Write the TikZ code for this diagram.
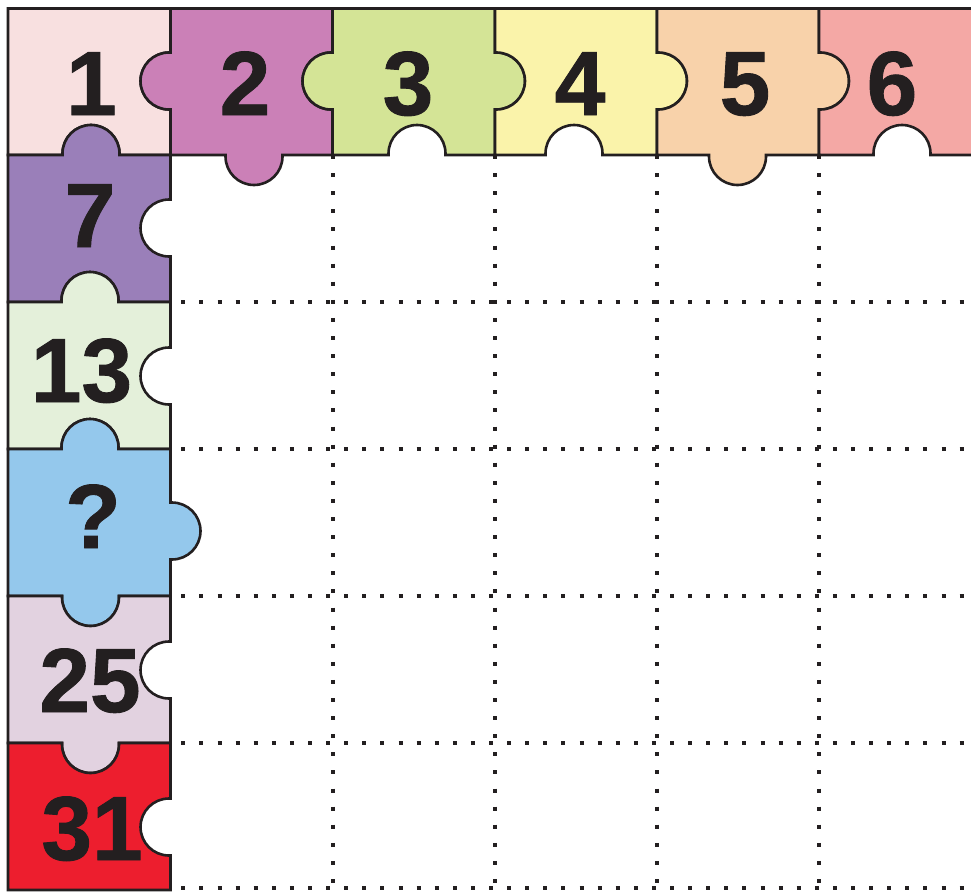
\documentclass[tikz,border=0pt]{standalone}
\usepackage{fontspec}
\setmainfont{Liberation Sans}
\newfontfamily\numfont[FakeBold=1]{Liberation Sans Bold}
\definecolor{ink}{HTML}{231F20}
\definecolor{cA}{HTML}{F8E0E0}
\definecolor{cB}{HTML}{CB80B7}
\definecolor{cC}{HTML}{D4E496}
\definecolor{cD}{HTML}{FAF3AA}
\definecolor{cE}{HTML}{F8D2AA}
\definecolor{cF}{HTML}{F4A8A5}
\definecolor{cG}{HTML}{9A7FB9}
\definecolor{cH}{HTML}{E4F0DA}
\definecolor{cI}{HTML}{94C8EC}
\definecolor{cJ}{HTML}{E2D2E0}
\definecolor{cK}{HTML}{ED1E2E}
\def\pr{28.5}
\def\ps{1.5}
\tikzset{
 dnP/.style 2 args={insert path={-- (#1,#2-\pr) -- (#1+\ps,#2-\pr) arc(-90:90:\pr) -- (#1,#2+\pr)}},
 dnM/.style 2 args={insert path={-- (#1,#2-\pr) -- (#1-\ps,#2-\pr) arc(-90:-270:\pr) -- (#1,#2+\pr)}},
 upP/.style 2 args={insert path={-- (#1,#2+\pr) -- (#1+\ps,#2+\pr) arc(90:-90:\pr) -- (#1,#2-\pr)}},
 upM/.style 2 args={insert path={-- (#1,#2+\pr) -- (#1-\ps,#2+\pr) arc(90:270:\pr) -- (#1,#2-\pr)}},
 rtP/.style 2 args={insert path={-- (#2-\pr,#1) -- (#2-\pr,#1+\ps) arc(180:0:\pr) -- (#2+\pr,#1)}},
 rtM/.style 2 args={insert path={-- (#2-\pr,#1) -- (#2-\pr,#1-\ps) arc(180:360:\pr) -- (#2+\pr,#1)}},
 lfP/.style 2 args={insert path={-- (#2+\pr,#1) -- (#2+\pr,#1+\ps) arc(0:180:\pr) -- (#2-\pr,#1)}},
 lfM/.style 2 args={insert path={-- (#2+\pr,#1) -- (#2+\pr,#1-\ps) arc(0:-180:\pr) -- (#2-\pr,#1)}},
 piece/.style={draw=ink, line width=2.6pt},
 num/.style={font=\fontsize{91}{91}\selectfont\numfont, text=ink, inner sep=0pt, anchor=base},
 dotline/.style={draw=ink, line width=4pt, dash pattern=on 4pt off 14.1pt}
}
\begin{document}
\begin{tikzpicture}[x=1pt,y=1pt,yscale=-1]
\useasboundingbox (0,0) rectangle (971,891);
\clip (0,0) rectangle (971,891);
% dotted grid
\foreach \yy in {302,449,596,743,888} \draw[dotline] (181.3,\yy) -- (980,\yy);
\foreach \xx in {332.5,495,657,819} \draw[dotline] (\xx,155) -- (\xx,900);
% top row
\path[piece, fill=cA] (8,8.5) -- (170.5,8.5) [dnM={170.5}{81}] -- (170.5,155) [lfM={155}{91}] -- (8,155) -- cycle;
\path[piece, fill=cB] (170.5,8.5) -- (332.5,8.5) [dnM={332.5}{81}] -- (332.5,155) [lfP={155}{254}] -- (170.5,155) [upM={170.5}{81}] -- cycle;
\path[piece, fill=cC] (332.5,8.5) -- (495,8.5) [dnP={495}{81}] -- (495,155) [lfM={155}{417}] -- (332.5,155) [upM={332.5}{81}] -- cycle;
\path[piece, fill=cD] (495,8.5) -- (657,8.5) [dnP={657}{81}] -- (657,155) [lfM={155}{574}] -- (495,155) [upP={495}{81}] -- cycle;
\path[piece, fill=cE] (657,8.5) -- (819,8.5) [dnP={819}{81}] -- (819,155) [lfP={155}{737.5}] -- (657,155) [upP={657}{81}] -- cycle;
\path[piece, fill=cF] (819,8.5) -- (995,8.5) -- (995,155) [lfM={155}{902}] -- (819,155) [upP={819}{81}] -- cycle;
% left column
\path[piece, fill=cG] (8,155) [rtM={155}{91}] -- (170.5,155) [dnM={170.5}{228}] -- (170.5,302) [lfM={302}{90}] -- (8,302) -- cycle;
\path[piece, fill=cH] (8,302) [rtM={302}{90}] -- (170.5,302) [dnM={170.5}{376}] -- (170.5,449) [lfM={449}{90}] -- (8,449) -- cycle;
\path[piece, fill=cI] (8,449) [rtM={449}{90}] -- (170.5,449) [dnP={170.5}{531}] -- (170.5,596) [lfP={596}{90.5}] -- (8,596) -- cycle;
\path[piece, fill=cJ] (8,596) [rtP={596}{90.5}] -- (170.5,596) [dnM={170.5}{670}] -- (170.5,743) [lfP={743}{90.5}] -- (8,743) -- cycle;
\path[piece, fill=cK] (8,743) [rtP={743}{90.5}] -- (170.5,743) [dnM={170.5}{827}] -- (170.5,890) -- (8,890) -- cycle;
% numbers
\node[num] (n1) at (91.5,115) {1};
\node[num] (n2) at (245,115) {2};
\node[num] (n3) at (408,115) {3};
\node[num] (n4) at (580,115) {4};
\node[num] (n5) at (745,115) {5};
\node[num] (n6) at (892,115) {6};
\node[num] (n7) at (90,247) {7};
\node[num] (n13) at (81.5,402) {13};
\node[num] (nq) at (93,548) {?};
\node[num] (n25) at (90,712) {25};
\node[num] (n31) at (92,860) {31};
\end{tikzpicture}
\end{document}
